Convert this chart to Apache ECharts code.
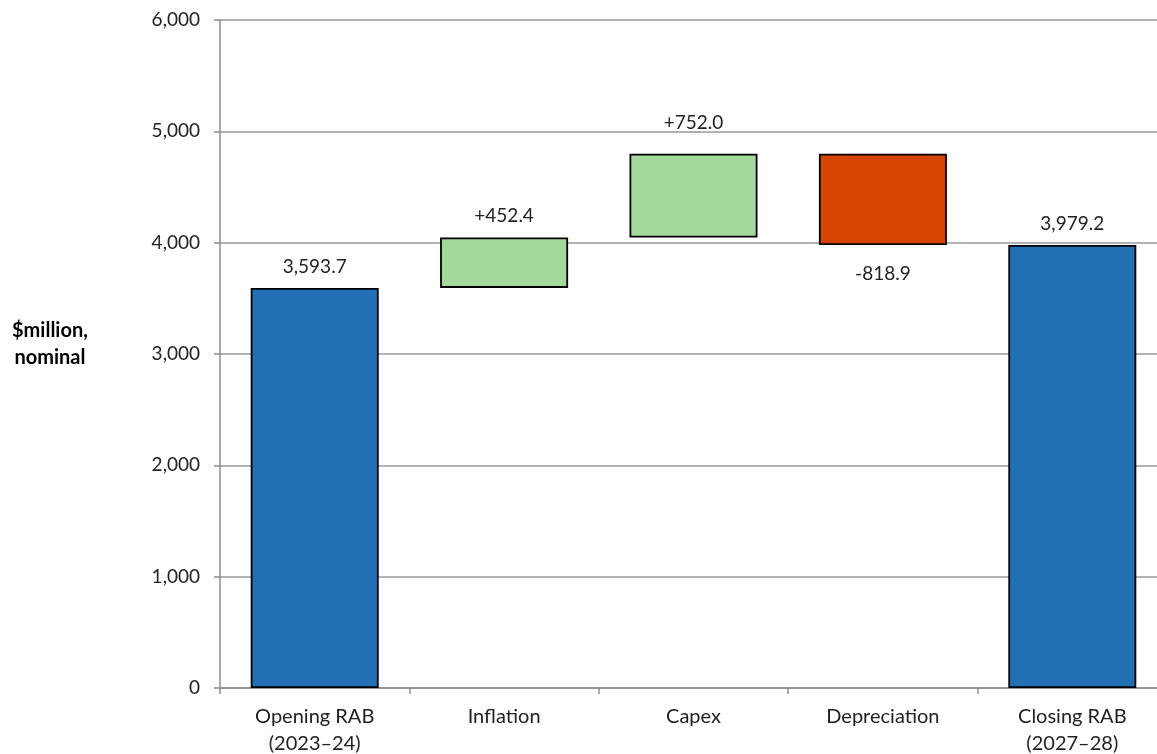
<!DOCTYPE html>
<html>
<head>
<meta charset="utf-8">
<script src="https://cdn.jsdelivr.net/npm/echarts@6/dist/echarts.min.js"></script>
<style>
  html, body { margin: 0; padding: 0; background: #fff; }
  #rab-waterfall { width: 1157px; height: 754px; }
</style>
</head>
<body>
<div id="rab-waterfall"></div>
<script>
var categories = ["Opening RAB\n(2023–24)", "Inflation", "Capex", "Depreciation", "Closing RAB\n(2027–28)"];
var values = [3593.7, 452.4, 752.0, -818.9, 3979.2];
var kinds = ["total", "delta", "delta", "delta", "total"];
var yTicks = [0, 1000, 2000, 3000, 4000, 5000, 6000];

var colors = { total: "#2170b4", up: "#a3d99b", down: "#d54500" };
var font = "Lato, 'Open Sans', sans-serif";
// the capex label sits a little higher in the original
var labelGap = { "Capex": 21 };

function fmt(v) {
  return v.toLocaleString("en-US", { minimumFractionDigits: 1, maximumFractionDigits: 1 });
}

// build the invisible base + visible part of each step
var baseData = [];
var stepData = [];
var running = 0;
for (var i = 0; i < values.length; i++) {
  var v = values[i];
  var gap = labelGap[categories[i]] || 12;
  if (kinds[i] === "total") {
    running = v;
    baseData.push(0);
    stepData.push({
      value: v,
      itemStyle: { color: colors.total },
      label: { position: "top", distance: gap, formatter: fmt(v) }
    });
  } else if (v >= 0) {
    baseData.push(running);
    stepData.push({
      value: v,
      itemStyle: { color: colors.up },
      label: { position: "top", distance: gap, formatter: "+" + fmt(v) }
    });
    running += v;
  } else {
    running += v;
    baseData.push(running);
    stepData.push({
      value: -v,
      itemStyle: { color: colors.down },
      label: { position: "bottom", distance: 19, formatter: fmt(v) }
    });
  }
}

var chart = echarts.init(document.getElementById("rab-waterfall"));
chart.setOption({
  animation: false,
  textStyle: { fontFamily: font },
  // plot runs past the right edge of the picture, as in the original
  grid: { left: 220, top: 20, bottom: 66, width: 947, outerBoundsMode: "none", containLabel: false },
  graphic: [{
    type: "text",
    left: 12,
    top: 317,
    style: {
      text: "$million,\nnominal",
      font: "bold 20px " + font,
      fill: "#000",
      textAlign: "center",
      lineHeight: 27
    }
  }],
  xAxis: {
    type: "category",
    data: categories,
    axisLine: { lineStyle: { color: "#8c8c8c", width: 1.5 } },
    axisTick: { show: true, length: 6, lineStyle: { color: "#8c8c8c", width: 1.5 } },
    axisLabel: { color: "#222", fontSize: 20, lineHeight: 27, margin: 15, fontFamily: font }
  },
  yAxis: {
    type: "value",
    min: yTicks[0],
    max: yTicks[yTicks.length - 1],
    interval: 1000,
    axisLine: { show: true, lineStyle: { color: "#8c8c8c", width: 1.5 } },
    axisTick: { show: true, length: 6, lineStyle: { color: "#8c8c8c", width: 1.5 } },
    axisLabel: {
      color: "#222", fontSize: 19, margin: 20, fontFamily: font,
      formatter: function (v) { return v.toLocaleString("en-US"); }
    },
    splitLine: { show: true, lineStyle: { color: "#999", width: 1.5 } }
  },
  series: [
    {
      name: "base",
      type: "bar",
      stack: "wf",
      barWidth: 128,
      silent: true,
      itemStyle: { color: "transparent" },
      data: baseData
    },
    {
      name: "step",
      type: "bar",
      stack: "wf",
      barWidth: 128,
      itemStyle: { borderColor: "#000", borderWidth: 1.8 },
      label: { show: true, color: "#222", fontSize: 19, fontFamily: font },
      data: stepData
    }
  ]
});
window.addEventListener("resize", function () { chart.resize(); });
</script>
</body>
</html>
